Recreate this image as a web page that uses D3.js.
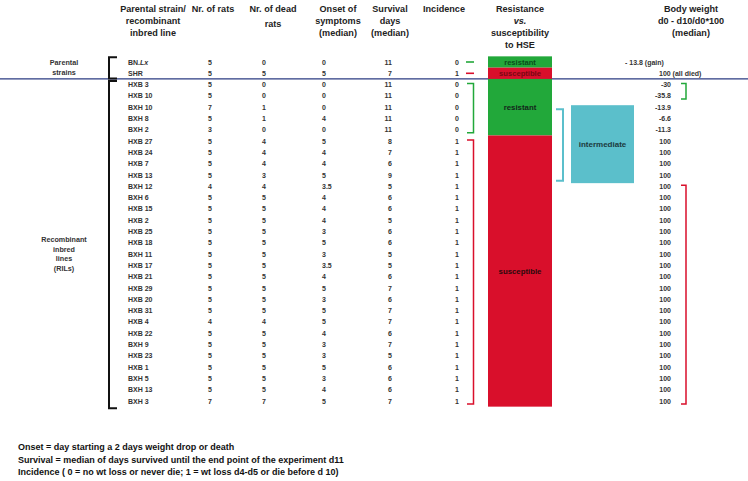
<!DOCTYPE html>
<html>
<head>
<meta charset="utf-8">
<script src="https://cdn.jsdelivr.net/npm/d3@7"></script>
<style>
  html, body { margin: 0; padding: 0; background: #fff; }
  svg { display: block; font-family: "Liberation Sans", Arial, sans-serif; }
</style>
</head>
<body>
<svg id="chart" width="748" height="481"></svg>
<script>
// ---------------- DATA ----------------
const strains = ["BN.Lx","SHR","HXB 3","HXB 10","BXH 10","BXH 8","BXH 2","HXB 27","HXB 24","HXB 7","HXB 13","BXH 12","BXH 6","HXB 15","HXB 2","HXB 25","HXB 18","BXH 11","HXB 17","HXB 21","HXB 29","HXB 20","HXB 31","HXB 4","HXB 22","BXH 9","HXB 23","HXB 1","BXH 5","BXH 13","BXH 3"];
const groups = ["parental","parental"].concat(Array(29).fill("ril"));
const nRats = [5,5,5,5,7,5,3,5,5,5,5,4,5,5,5,5,5,5,5,5,5,5,5,4,5,5,5,5,5,5,7];
const nDead = [0,5,0,0,1,1,0,4,4,4,3,4,5,5,5,5,5,5,5,5,5,5,5,4,5,5,5,5,5,5,7];
const onset = ["0","5","0","0","0","4","0","5","4","4","5","3.5","4","4","4","3","5","3","3.5","4","5","3","5","5","4","3","3","5","3","4","5"];
const survival = [11,7,11,11,11,11,11,8,7,6,9,5,6,6,5,6,6,5,5,6,7,6,7,7,6,7,5,6,6,6,7];
const incidence = [0,1,0,0,0,0,0,1,1,1,1,1,1,1,1,1,1,1,1,1,1,1,1,1,1,1,1,1,1,1,1];
const resistance = ["resistant","susceptible","resistant","resistant","resistant","resistant","resistant"].concat(Array(24).fill("susceptible"));
const bodyWeight = ["- 13.8 (gain)","100 (all died)","-30","-35.8","-13.9","-6.6","-11.3"].concat(Array(24).fill("100"));
const intermediate = {from: "BXH 10", to: "HXB 13", label: "intermediate"};
const bodyWeightBrackets = [{from: "HXB 3", to: "HXB 10", cls: "resistant"}, {from: "BXH 12", to: "BXH 3", cls: "susceptible"}];
const headers = [
  {key: "strain", lines: ["Parental strain/", "recombinant", "inbred line"]},
  {key: "rats", lines: ["Nr. of rats"]},
  {key: "dead", lines: ["Nr. of dead", "rats"]},
  {key: "onset", lines: ["Onset of", "symptoms", "(median)"]},
  {key: "surv", lines: ["Survival", "days", "(median)"]},
  {key: "inc", lines: ["Incidence"]},
  {key: "res", lines: ["Resistance", "vs.", "susceptibility", "to HSE"]},
  {key: "bw", lines: ["Body weight", "d0 - d10/d0*100", "(median)"]}
];
const groupLabels = [
  {group: "parental", lines: ["Parental", "strains"]},
  {group: "ril", lines: ["Recombinant", "inbred", "lines", "(RILs)"]}
];
const footnotes = [
  "Onset = day starting a 2 days weight drop or death",
  "Survival = median of days survived until the end point of the experiment d11",
  "Incidence ( 0 = no wt loss or never die; 1 = wt loss d4-d5 or die before d 10)"
];

// ---------------- STYLE ----------------
const colors = {resistant: "#22a83a", susceptible: "#d90f2b", intermediate: "#5bbfcb", teal: "#5bbfcb", line: "#2b3b82", text: "#333"};
const labelColors = {parental: {resistant: "#0b4d1a", susceptible: "#7a0713"}, ril: {resistant: "#13261a", susceptible: "#2b0a0c"}};
const colX = {strain: 128, rats: 210, dead: 264, onset: 322, surv: 392, inc: 459, resL: 488, resR: 552, bw: 671,
  hdr: {strain: 153, rats: 213, dead: 273, onset: 338, surv: 390, inc: 444, res: 520, bw: 691}};

const svg = d3.select("#chart");
const idx = d3.range(strains.length);
const y = d3.scaleBand().domain(idx).range([56.35, 56.35 + 11.3 * strains.length]).paddingInner(0);
const yc = i => y(i) + y.bandwidth() / 2;
const yOf = s => strains.indexOf(s);

// Headers
headers.forEach(h => {
  const t = svg.append("text").attr("x", colX.hdr[h.key]).attr("text-anchor", "middle")
    .attr("font-size", 9.1).attr("font-weight", "bold").attr("fill", "#222");
  h.lines.forEach((l, k) => {
    let yy = 11.5 + k * 12;
    if (h.key === "dead" && k === 1) yy += 3;
    const ts = t.append("tspan").attr("x", colX.hdr[h.key]).attr("y", yy).text(l);
    if (l === "vs.") ts.attr("font-style", "italic").attr("font-weight", "bold");
  });
});

// Separator line
const sepY = y(2);
svg.append("line").attr("x1", 0).attr("x2", 748).attr("y1", sepY).attr("y2", sepY)
  .attr("stroke", colors.line).attr("stroke-width", 1.3);

// Group labels and left brackets
groupLabels.forEach(g => {
  const rows = idx.filter(i => groups[i] === g.group);
  const top = y(rows[0]), bot = y(rows[rows.length - 1]) + y.bandwidth();
  const mid = g.group === "parental" ? (yc(rows[0]) + yc(rows[1])) / 2 : (top + bot) / 2 + 11;
  const n = g.lines.length;
  const lh = g.group === "parental" ? 10.5 : 9.5;
  g.lines.forEach((l, k) => {
    svg.append("text").attr("x", 64).attr("y", mid + (k - (n - 1) / 2) * lh + 2.5)
      .attr("text-anchor", "middle").attr("font-size", 7.2).attr("font-weight", "bold").attr("fill", "#333").text(l);
  });
  const t0 = g.group === "parental" ? top + 1 : top + 2;
  const b0 = g.group === "parental" ? bot - 0.5 : bot + 1.5;
  svg.append("path").attr("d", `M117,${t0}H109V${b0}H117`).attr("fill", "none")
    .attr("stroke", "#111").attr("stroke-width", 2);
});

// Data text
const rowG = svg.selectAll("g.row").data(idx).join("g").attr("class", "row")
  .attr("transform", i => `translate(0,${yc(i) + 2.5})`)
  .attr("font-size", 7).attr("font-weight", "bold").attr("fill", colors.text);

rowG.append("text").attr("x", colX.strain).each(function(i) {
  const t = d3.select(this);
  if (strains[i] === "BN.Lx") { t.append("tspan").text("BN."); t.append("tspan").attr("font-style", "italic").text("Lx"); }
  else t.text(strains[i]);
});
rowG.append("text").attr("x", colX.rats).attr("text-anchor", "middle").text(i => nRats[i]);
rowG.append("text").attr("x", colX.dead).attr("text-anchor", "middle").text(i => nDead[i]);
rowG.append("text").attr("x", colX.onset).text(i => onset[i]);
rowG.append("text").attr("x", colX.surv).attr("text-anchor", "end").text(i => survival[i]);
rowG.append("text").attr("x", colX.inc).attr("text-anchor", "end").text(i => incidence[i]);
rowG.append("text")
  .attr("x", i => groups[i] === "parental" ? (i === 0 ? 625 : 659) : colX.bw)
  .attr("text-anchor", i => groups[i] === "parental" ? "start" : "end")
  .text(i => bodyWeight[i]);

// Resistance runs
const runs = [];
idx.forEach(i => {
  const last = runs[runs.length - 1];
  if (last && last.cls === resistance[i] && last.group === groups[i] && groups[i] === "ril") last.end = i;
  else runs.push({cls: resistance[i], group: groups[i], start: i, end: i});
});
runs.forEach(r => {
  const top = y(r.start), bot = y(r.end) + y.bandwidth();
  svg.append("rect").attr("x", colX.resL).attr("y", top).attr("width", colX.resR - colX.resL).attr("height", bot - top)
    .attr("fill", colors[r.cls]);
  svg.append("text").attr("x", (colX.resL + colX.resR) / 2).attr("y", (top + bot) / 2 + 2.8)
    .attr("text-anchor", "middle").attr("font-size", r.group === "parental" ? 7.6 : 7.8).attr("font-weight", "bold")
    .attr("fill", labelColors[r.group][r.cls]).text(r.cls);
});

// Incidence markers: dashes for parental, brackets for RIL runs
idx.filter(i => groups[i] === "parental").forEach(i => {
  svg.append("line").attr("x1", 466).attr("x2", 474).attr("y1", yc(i)).attr("y2", yc(i))
    .attr("stroke", colors[resistance[i]]).attr("stroke-width", 1.6);
});
runs.filter(r => r.group === "ril").forEach(r => {
  const t0 = yc(r.start) - 1, b0 = yc(r.end) + 3;
  svg.append("path").attr("d", `M467,${t0}H473.5V${b0}H467`).attr("fill", "none")
    .attr("stroke", colors[r.cls]).attr("stroke-width", 1.5);
});

// Intermediate box and bracket
const iTop = yc(yOf(intermediate.from)) - 2, iBot = y(yOf(intermediate.to)) + y.bandwidth() + 2.5;
svg.append("rect").attr("x", 571).attr("y", iTop).attr("width", 63).attr("height", iBot - iTop).attr("fill", colors.intermediate);
svg.append("text").attr("x", 602.5).attr("y", (iTop + iBot) / 2 + 2.8).attr("text-anchor", "middle")
  .attr("font-size", 8).attr("font-weight", "bold").attr("fill", "#1b3a3e").text(intermediate.label);
const bTop = yc(yOf(intermediate.from)) + 2, bBot = y(yOf(intermediate.to)) + y.bandwidth();
svg.append("path").attr("d", `M556,${bTop}H563V${bBot}H556`).attr("fill", "none")
  .attr("stroke", colors.teal).attr("stroke-width", 2);

// Body weight brackets
bodyWeightBrackets.forEach(b => {
  const t0 = yc(yOf(b.from)) - 1, b0 = yc(yOf(b.to)) + 3;
  svg.append("path").attr("d", `M681,${t0}H686V${b0}H681`).attr("fill", "none")
    .attr("stroke", colors[b.cls]).attr("stroke-width", 1.5);
});

// Footnotes
footnotes.forEach((f, k) => {
  svg.append("text").attr("x", 18).attr("y", 450 + k * 12.5).attr("font-size", 9).attr("font-weight", "bold")
    .attr("fill", "#111").text(f);
});
</script>
</body>
</html>
